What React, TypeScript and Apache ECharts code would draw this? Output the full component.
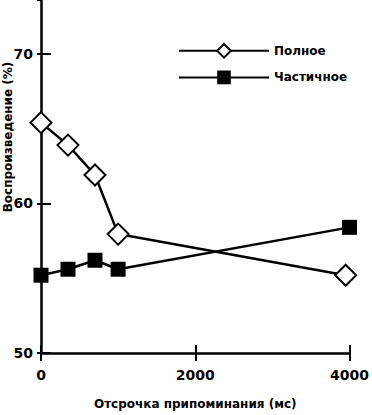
import React, { useEffect, useRef } from "react";
import * as echarts from "echarts";

const delays = [0, 350, 700, 1000, 4000];
const fullDelays = [0, 350, 700, 1000, 3950];
const fullValues = [65.4, 63.9, 61.9, 57.95, 55.2];
const partialValues = [55.2, 55.6, 56.2, 55.6, 58.4];
const xTicks = [0, 2000, 4000];
const yTicks = [50, 60, 70];
const seriesNames = ["Полное", "Частичное"];
const xName = "Отсрочка припоминания (мс)";
const yName = "Воспроизведение (%)";

export default function App() {
  const ref = useRef<HTMLDivElement>(null);
  useEffect(() => {
    if (!ref.current) return;
    const chart = echarts.init(ref.current, null, { renderer: "svg" });
    const font = "'DejaVu Sans', 'Liberation Sans', sans-serif";
    const labelStyle = { color: "#000", fontWeight: "bold" as const, fontSize: 14, fontFamily: font };
    const grid = { left: 41, right: 21, top: 0, bottom: 58, containLabel: false };
    const xBase = {
      type: "value" as const,
      min: 0,
      max: 4000,
      interval: 2000,
      splitLine: { show: false },
    };
    const yBase = {
      type: "value" as const,
      min: 50,
      max: 73.6,
      interval: 10,
      splitLine: { show: false },
    };
    chart.setOption({
      animation: false,
      backgroundColor: "#fff",
      grid,
      legend: {
        orient: "vertical",
        left: 173,
        top: 38,
        itemWidth: 90,
        itemHeight: 17,
        itemGap: 12,
        textStyle: { color: "#000", fontWeight: "bold", fontSize: 12, fontFamily: font },
        data: seriesNames,
      },
      xAxis: [
        {
          ...xBase,
          axisLine: { show: true, onZero: false, lineStyle: { color: "#000", width: 2.5 } },
          axisTick: { show: true, inside: true, length: 8, lineStyle: { color: "#000", width: 2 } },
          axisLabel: {
            ...labelStyle,
            margin: 15,
            formatter: (v: number) => (xTicks.includes(v) ? String(v) : ""),
          },
          name: xName,
          nameLocation: "middle",
          nameGap: 45,
          nameTextStyle: { color: "#000", fontWeight: "bold", fontSize: 12, fontFamily: font },
        },
        {
          ...xBase,
          position: "bottom",
          axisLine: { show: false, onZero: false },
          axisTick: { show: true, inside: false, length: 8, lineStyle: { color: "#000", width: 2 } },
          axisLabel: { show: false },
        },
      ],
      yAxis: [
        {
          ...yBase,
          axisLine: { show: true, onZero: false, lineStyle: { color: "#000", width: 2.5 } },
          axisTick: { show: true, inside: true, length: 10, lineStyle: { color: "#000", width: 2 } },
          axisLabel: {
            ...labelStyle,
            margin: 8,
            showMaxLabel: false,
            formatter: (v: number) => (yTicks.includes(v) ? String(v) : ""),
          },
        },
        {
          ...yBase,
          position: "left",
          axisLine: { show: false, onZero: false },
          axisTick: { show: true, inside: false, length: 4, lineStyle: { color: "#000", width: 2 } },
          axisLabel: { show: false },
        },
      ],
      graphic: [
        {
          type: "text",
          x: 8,
          y: 137,
          rotation: Math.PI / 2,
          style: {
            text: yName,
            fill: "#000",
            font: `bold 12px ${font}`,
            align: "center",
            verticalAlign: "middle",
          },
        },
      ],
      series: [
        {
          name: seriesNames[0],
          type: "line",
          data: fullDelays.map((d, i) => [d, fullValues[i]]),
          symbol: "diamond",
          symbolSize: 21,
          lineStyle: { color: "#000", width: 2.5 },
          itemStyle: { color: "#fff", borderColor: "#000", borderWidth: 2 },
          z: 3,
        },
        {
          name: seriesNames[1],
          type: "line",
          data: delays.map((d, i) => [d, partialValues[i]]),
          symbol: "rect",
          symbolSize: 15,
          lineStyle: { color: "#000", width: 2.5 },
          itemStyle: { color: "#000", borderColor: "#000", borderWidth: 0 },
          z: 2,
        },
      ],
    });
    return () => chart.dispose();
  }, []);
  return <div ref={ref} style={{ width: 372, height: 415, position: "absolute", left: 0, top: 0 }} />;
}
